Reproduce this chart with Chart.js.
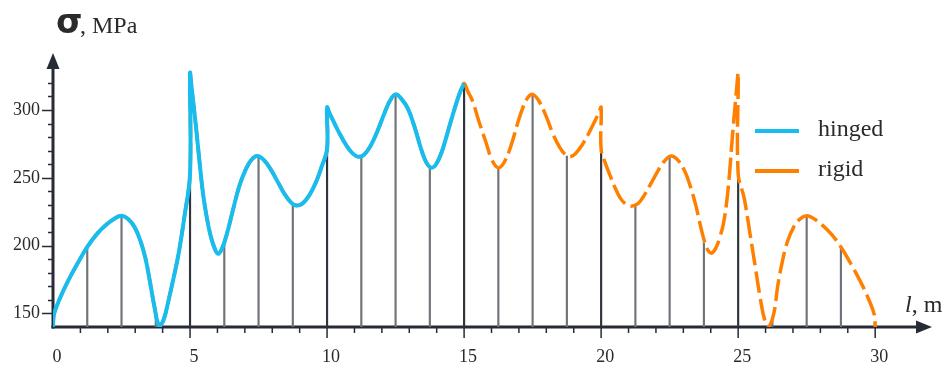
<!DOCTYPE html>
<html>
<head>
<meta charset="utf-8">
<script src="https://cdn.jsdelivr.net/npm/chart.js@4.4.0/dist/chart.umd.min.js"></script>
<style>
  body { margin: 0; background: #ffffff; }
  #wrap { width: 946px; height: 365px; position: relative; }
</style>
</head>
<body>
<div id="wrap"><canvas id="chart"></canvas></div>
<script>

// length along the beam (m) and stress (MPa)
let rigidLen = [0, 0.03, 0.25, 0.55, 0.9, 1.25, 1.6, 1.95, 2.25, 2.5, 2.75, 2.98, 3.2, 3.38, 3.55, 3.7, 3.87, 4.03, 4.22, 4.42, 4.6, 4.8, 5,
  5, 5.05, 5.1, 5.22, 5.34, 5.47, 5.6, 5.73, 5.87, 6.02, 6.17, 6.35, 6.55, 6.8, 7.05, 7.25, 7.45, 7.7, 7.95, 8.2, 8.45, 8.7, 8.88, 9.1, 9.35, 9.6, 9.8, 10,
  10, 10.08, 10.2, 10.46, 10.7, 10.93, 11.13, 11.35, 11.6, 11.85, 12.1, 12.3, 12.5, 12.72, 12.95, 13.2, 13.45, 13.63, 13.8, 13.98, 14.2, 14.45, 14.7, 14.87, 15,
  15.13, 15.3, 15.55, 15.8, 16.02, 16.24, 16.45, 16.7, 16.95, 17.15, 17.32, 17.5, 17.72, 17.98, 18.25, 18.5, 18.7, 18.87, 19.07, 19.3, 19.54, 19.8, 19.92, 20,
  20, 20.15, 20.32, 20.5, 20.7, 20.9, 21.1, 21.35, 21.6, 21.85, 22.1, 22.3, 22.55, 22.8, 23.05, 23.25, 23.45, 23.62, 23.78, 23.9, 24.03, 24.18, 24.33, 24.47, 24.58, 24.68, 24.78, 24.9, 24.95, 25,
  25, 25.22, 25.43, 25.62, 25.8, 25.97, 26.12, 26.3, 26.45, 26.62, 26.8, 27.02, 27.25, 27.5, 27.75, 28.05, 28.4, 28.75, 29.1, 29.45, 29.75, 29.97, 30]

let rigidStress = [140, 149, 161, 174, 187, 199, 208.5, 215.5, 220, 222, 219.5, 213.5, 203, 190, 172, 155, 141, 145, 160, 178, 196, 222, 253,
  327, 318, 309, 287, 263, 239, 222, 209, 199.5, 194, 198, 209, 225, 244, 257, 263.5, 266, 263, 256, 247, 238, 231.5, 229.5, 231, 237, 247, 258, 271,
  302, 298, 293, 282.5, 274, 268, 265.5, 267, 274, 285, 298, 307, 311.5, 308, 301, 287, 270, 261, 257.5, 260, 270, 287, 304, 314, 319.5,
  314, 307, 291, 276, 263, 257.5, 261, 273, 290, 302, 309, 311.5, 307, 296, 282, 272, 267, 265.5, 268, 274, 282.5, 293, 298, 302,
  271, 261, 252, 243, 235, 230.5, 229, 231, 238, 247, 256, 262, 266, 263, 255, 244, 230, 215, 202.5, 196.5, 194.5, 198, 206, 217, 232, 252, 278, 306, 317, 327,
  253, 235, 209, 185, 162, 145, 140.5, 150, 171, 189, 203, 213.5, 219.5, 222, 220, 215.5, 208.5, 199, 187, 174, 161, 149, 140]

// the hinged curve is only drawn over the first half (0..15 m)
let hingedCount = rigidLen.indexOf(15) + 1
let hingedLen = rigidLen.slice(0, hingedCount)
let hingedStress = rigidStress.slice(0, hingedCount)

// vertical lines at the section points
let spanPos = [1.25, 2.5, 3.75, 5, 6.25, 7.5, 8.75, 10, 11.25, 12.5, 13.75, 15, 16.25, 17.5, 18.75, 20, 21.25, 22.5, 23.75, 25, 26.25, 27.5, 28.75]
let spanStress = [199, 222, 151, 253, 204, 266, 231, 271, 266, 312, 258, 319, 258, 312, 266, 271, 230, 266, 202, 253, 146, 222, 199]

let xTicks = [0, 5, 10, 15, 20, 25, 30]
let yTicks = [150, 200, 250, 300]
let yMinorTicks = [150, 160, 170, 180, 190, 200, 210, 220, 230, 240, 250, 260, 270, 280, 290, 300, 310, 320]

let cyan = '#17bdee'
let orange = '#ff8000'
let axisColor = '#262b35'
let textColor = '#2a2a2a'
let serif = '"Liberation Serif", "Times New Roman", serif'


function toPoints(xs, ys) {
    return xs.map((x, i) => ({ x: x, y: ys[i] }))
}


function drawAxes(chart) {
    let c = chart.ctx
    let xs = chart.scales.x
    let ys = chart.scales.y
    let x0 = xs.getPixelForValue(0)
    let yb = ys.getPixelForValue(ys.min)
    let top = chart.chartArea.top
    let right = chart.chartArea.right

    c.save()
    c.strokeStyle = axisColor
    c.fillStyle = axisColor

    // y ticks
    c.lineWidth = 1.5
    yMinorTicks.forEach(v => {
        let y = Math.round(ys.getPixelForValue(v)) + 0.5
        let len = yTicks.includes(v) ? 11 : 5
        c.beginPath()
        c.moveTo(x0 - len, y)
        c.lineTo(x0, y)
        c.stroke()
    })

    // x ticks, one per metre
    for (let v = 1; v <= 30; v++) {
        let x = xs.getPixelForValue(v)
        let len = v % 5 === 0 ? 11 : 6
        c.beginPath()
        c.moveTo(x, yb)
        c.lineTo(x, yb + len)
        c.stroke()
    }

    // axis lines
    c.lineWidth = 3
    c.beginPath()
    c.moveTo(x0, yb + 1.5)
    c.lineTo(x0, top + 12)
    c.stroke()
    c.beginPath()
    c.moveTo(x0 - 1.5, yb)
    c.lineTo(right - 12, yb)
    c.stroke()

    // arrow heads
    c.beginPath()
    c.moveTo(x0, top)
    c.lineTo(x0 - 6.5, top + 16)
    c.lineTo(x0 + 6.5, top + 16)
    c.closePath()
    c.fill()
    c.beginPath()
    c.moveTo(right + 2, yb)
    c.lineTo(right - 14, yb - 6.5)
    c.lineTo(right - 14, yb + 6.5)
    c.closePath()
    c.fill()
    c.restore()
}


function drawLabels(chart) {
    let c = chart.ctx
    c.save()
    c.fillStyle = textColor
    c.textBaseline = 'alphabetic'

    // axis titles
    c.font = 'bold 34px "DejaVu Sans"'
    c.fillText('σ', 56, 33)
    c.font = '24px ' + serif
    c.fillText(', MPa', 80, 33)

    c.font = 'italic 24px ' + serif
    c.fillText('l', 905, 312)
    let w = c.measureText('l').width
    c.font = '24px ' + serif
    c.fillText(', m', 905 + w, 312)

    // legend
    let items = chart.data.datasets.filter(d => d.type !== 'bar')
    c.textBaseline = 'middle'
    items.forEach((d, i) => {
        let y = 131 + i * 40
        c.strokeStyle = d.borderColor
        c.lineWidth = 4
        c.beginPath()
        c.moveTo(755, y)
        c.lineTo(799, y)
        c.stroke()
        c.fillText(d.label, 818, y - 1)
    })
    c.restore()
}


let axesPlugin = {
    id: 'axes',
    beforeDatasetsDraw: function(chart) { drawAxes(chart) },
    afterDraw: function(chart) { drawLabels(chart) }
}

let ctx = document.getElementById('chart')

let chart = new Chart(ctx, {
    type: 'line',
    data: {
        datasets: [{
            label: 'hinged',
            data: toPoints(hingedLen, hingedStress),
            borderColor: cyan,
            borderWidth: 4,
            pointRadius: 0,
            tension: 0.4,
            fill: false
        },
        {
            label: 'rigid',
            data: toPoints(rigidLen, rigidStress),
            borderColor: orange,
            borderWidth: 3.5,
            borderDash: [22, 6],
            pointRadius: 0,
            tension: 0.4,
            fill: false
        },
        {
            type: 'bar',
            label: 'sections',
            data: toPoints(spanPos, spanStress),
            backgroundColor: function(context) {
                return context.raw && context.raw.x % 5 === 0 ? '#30343c' : '#6f737a'
            },
            barThickness: 1.5,
            grouped: false
        }]
    },
    options: {
        animation: false,
        responsive: true,
        maintainAspectRatio: false,
        events: [],
        layout: { padding: { top: 53, right: 16, left: 0, bottom: 0 } },
        plugins: {
            legend: { display: false },
            tooltip: { enabled: false }
        },
        scales: {
            x: {
                type: 'linear',
                min: 0,
                max: 32,
                offset: false,
                grid: { display: false, drawTicks: false },
                border: { display: false },
                afterBuildTicks: function(scale) { scale.ticks = xTicks.map(v => ({ value: v })) },
                afterFit: function(scale) { scale.height = 38 },
                ticks: {
                    color: textColor,
                    font: { family: serif, size: 18 },
                    padding: 19,
                    labelOffset: 4,
                    maxRotation: 0
                }
            },
            y: {
                min: 140,
                max: 342,
                grid: { display: false, drawTicks: false },
                border: { display: false },
                afterBuildTicks: function(scale) { scale.ticks = yTicks.map(v => ({ value: v })) },
                afterFit: function(scale) { scale.width = 53 },
                ticks: {
                    color: textColor,
                    font: { family: serif, size: 18 },
                    padding: 13
                }
            }
        }
    },
    plugins: [axesPlugin]
})

</script>
</body>
</html>
